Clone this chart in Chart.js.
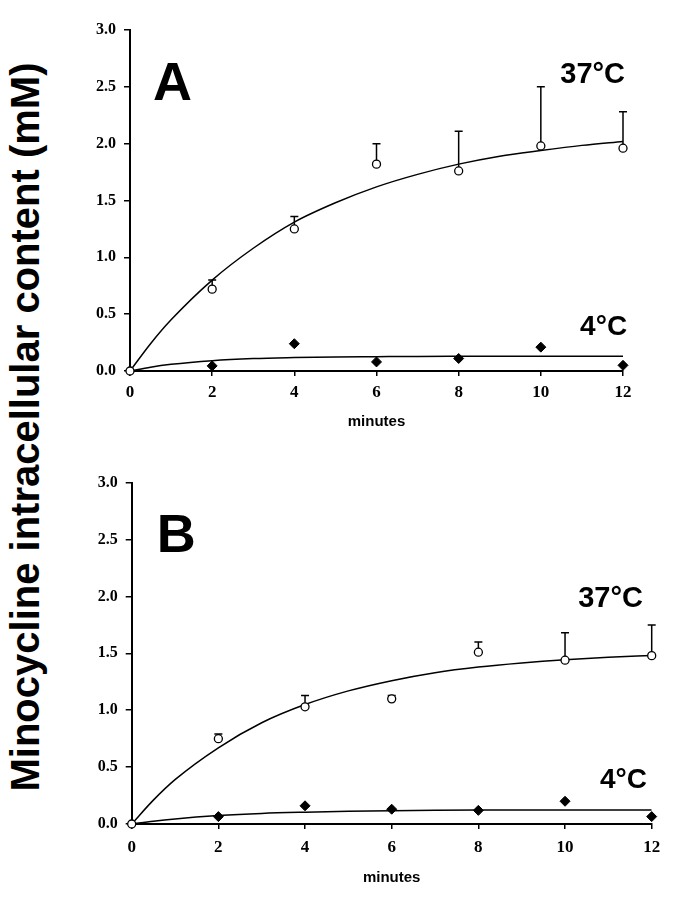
<!DOCTYPE html>
<html>
<head>
<meta charset="utf-8">
<script src="https://cdn.jsdelivr.net/npm/chart.js@4.4.1/dist/chart.umd.min.js"></script>
<style>
body{margin:0;background:#fff;}
#page{position:relative;width:674px;height:900px;overflow:hidden;background:#fff;}
.box{position:absolute;left:60px;width:614px;}
#boxA{top:0;height:435px;}
#boxB{top:440px;height:451px;}
#ylab{position:absolute;left:-373px;top:403px;width:800px;height:48px;line-height:48px;text-align:center;
  font:bold 40px 'Liberation Sans',Arial,sans-serif;color:#000;transform:rotate(-90deg);white-space:nowrap;}
</style>
</head>
<body>
<div id="page">
  <div id="ylab">Minocycline intracellular content (mM)</div>
  <div class="box" id="boxA"><canvas id="chartA"></canvas></div>
  <div class="box" id="boxB"><canvas id="chartB"></canvas></div>
</div>
<script>
// measured points (minutes) with SD (upper bars only)
var minutes  = [0, 2, 4, 6, 8, 10, 12];
var a37_mean = [0, 0.72, 1.25, 1.82, 1.76, 1.98, 1.96];
var a37_sd   = [0, 0.08, 0.11, 0.18, 0.35, 0.52, 0.32];
var a4_mean  = [null, 0.045, 0.24, 0.08, 0.11, 0.21, 0.05];
var b37_mean = [0, 0.75, 1.03, 1.10, 1.51, 1.44, 1.48];
var b37_sd   = [0, 0.04, 0.10, 0.03, 0.09, 0.24, 0.27];
var b4_mean  = [null, 0.065, 0.16, 0.13, 0.12, 0.20, 0.065];

// fitted curves
var fitMinutes = [0, 0.5, 1, 2, 3, 4, 5, 6, 7, 8, 9, 10, 11, 12];
var a37_fit = [0, 0.24, 0.45, 0.80, 1.08, 1.31, 1.48, 1.62, 1.73, 1.82, 1.89, 1.94, 1.985, 2.02];
var a4_fit  = [0, 0.034, 0.059, 0.091, 0.109, 0.118, 0.124, 0.126, 0.128, 0.129, 0.13, 0.13, 0.13, 0.13];
var b37_fit = [0, 0.21, 0.39, 0.67, 0.89, 1.05, 1.17, 1.26, 1.33, 1.38, 1.416, 1.444, 1.465, 1.481];
var b4_fit  = [0, 0.025, 0.045, 0.074, 0.093, 0.104, 0.112, 0.117, 0.12, 0.122, 0.123, 0.124, 0.124, 0.124];

var xTicks = [0, 12, 2];      // min, max, step
var yTicks = [0, 3, 0.5];

var serif = "'Liberation Serif', 'DejaVu Serif', serif";
var sans = "'Liberation Sans', Arial, sans-serif";

function pts(xs, ys){
    var out = [];
    for(var i=0; i<xs.length; i++){
        if(ys[i] !== null) out.push({x: xs[i], y: ys[i]});
    }
    return out;
}

var errorBars = {
    id: 'errorBars',
    beforeDatasetsDraw: function(chart){
        var ctx = chart.ctx, xs = chart.scales.x, ys = chart.scales.y;
        chart.data.datasets.forEach(function(ds){
            if(!ds.sd) return;
            ctx.save();
            ctx.strokeStyle = '#000';
            ctx.lineWidth = 1.5;
            ds.data.forEach(function(p, i){
                var sd = ds.sd[i];
                if(!sd) return;
                var px = xs.getPixelForValue(p.x);
                var top = ys.getPixelForValue(p.y + sd);
                var y0 = ys.getPixelForValue(p.y);
                ctx.beginPath();
                ctx.moveTo(px, y0);
                ctx.lineTo(px, top);
                ctx.moveTo(px - 4, top);
                ctx.lineTo(px + 4, top);
                ctx.stroke();
            });
            ctx.restore();
        });
    }
};

function textPlugin(items){
    return {
        id: 'panelText',
        afterDraw: function(chart){
            var ctx = chart.ctx, xs = chart.scales.x, ys = chart.scales.y;
            items.forEach(function(t){
                ctx.save();
                ctx.font = t.font;
                ctx.fillStyle = '#000';
                ctx.textAlign = t.align;
                ctx.textBaseline = 'alphabetic';
                ctx.fillText(t.text, xs.getPixelForValue(t.x), ys.getPixelForValue(t.y));
                ctx.restore();
            });
        }
    };
}

function drawPanel(id, m37, sd37, m4, f37, f4, lay, labels){
    var sd = sd37.slice();
    return new Chart(document.getElementById(id).getContext('2d'), {
        type: 'scatter',
        data: {
            datasets: [{
                label: '37°C',
                data: pts(minutes, m37),
                sd: sd,
                pointStyle: 'circle',
                pointRadius: 4,
                pointBackgroundColor: '#fff',
                pointBorderColor: '#000',
                pointBorderWidth: 1.3,
                showLine: false,
                clip: false
            },{
                label: '4°C',
                data: pts(minutes, m4),
                pointStyle: 'rectRot',
                pointRadius: 5,
                pointBackgroundColor: '#000',
                pointBorderColor: '#000',
                pointBorderWidth: 1,
                showLine: false,
                clip: false
            },{
                label: 'fit 37',
                data: pts(fitMinutes, f37),
                showLine: true,
                borderColor: '#000',
                borderWidth: 1.5,
                pointRadius: 0,
                cubicInterpolationMode: 'monotone'
            },{
                label: 'fit 4',
                data: pts(fitMinutes, f4),
                showLine: true,
                borderColor: '#000',
                borderWidth: 1.5,
                pointRadius: 0,
                cubicInterpolationMode: 'monotone'
            }]
        },
        options: {
            responsive: true,
            maintainAspectRatio: false,
            animation: false,
            layout: { padding: { top: lay.top, right: lay.right, left: 0, bottom: 0 } },
            scales: {
                x: {
                    type: 'linear',
                    min: xTicks[0], max: xTicks[1],
                    ticks: {
                        stepSize: xTicks[2],
                        color: '#000',
                        padding: lay.xpad,
                        maxRotation: 0,
                        font: { family: serif, size: 17, weight: 'bold' }
                    },
                    grid: { display: true, drawOnChartArea: false, drawTicks: true, tickLength: 5, color: '#000', lineWidth: 1.5 },
                    border: { display: true, color: '#000', width: 2 },
                    title: {
                        display: true,
                        text: 'minutes',
                        color: '#000',
                        padding: { top: 0, bottom: 4 },
                        font: { family: sans, size: 15, weight: 'bold' }
                    },
                    afterFit: function(s){ s.height = lay.xh; }
                },
                y: {
                    min: yTicks[0], max: yTicks[1],
                    ticks: {
                        stepSize: yTicks[2],
                        color: '#000',
                        padding: 8,
                        font: { family: serif, size: 16, weight: 'bold' },
                        callback: function(v){ return v.toFixed(1); }
                    },
                    grid: { display: true, drawOnChartArea: false, drawTicks: true, tickLength: 6, color: '#000', lineWidth: 1.5 },
                    border: { display: true, color: '#000', width: 2 },
                    afterFit: function(s){ s.width = lay.yw; }
                }
            },
            plugins: {
                legend: { display: false },
                tooltip: { enabled: false }
            }
        },
        plugins: [errorBars, textPlugin(labels)]
    });
}

drawPanel('chartA', a37_mean, a37_sd, a4_mean, a37_fit, a4_fit,
    { top: 30, right: 51, yw: 70, xh: 64, xpad: 6 },
    [
        { text: 'A', x: 0.56, y: 2.38, align: 'left', font: "bold 54px " + sans },
        { text: '37°C', x: 12.05, y: 2.53, align: 'right', font: "bold 29px " + sans },
        { text: '4°C', x: 12.1, y: 0.315, align: 'right', font: "bold 28px " + sans }
    ]);

drawPanel('chartB', b37_mean, b37_sd, b4_mean, b37_fit, b4_fit,
    { top: 42.7, right: 22.3, yw: 71.7, xh: 67, xpad: 8 },
    [
        { text: 'B', x: 0.58, y: 2.39, align: 'left', font: "bold 54px " + sans },
        { text: '37°C', x: 11.8, y: 1.907, align: 'right', font: "bold 29px " + sans },
        { text: '4°C', x: 11.89, y: 0.316, align: 'right', font: "bold 28px " + sans }
    ]);
</script>
</body>
</html>
